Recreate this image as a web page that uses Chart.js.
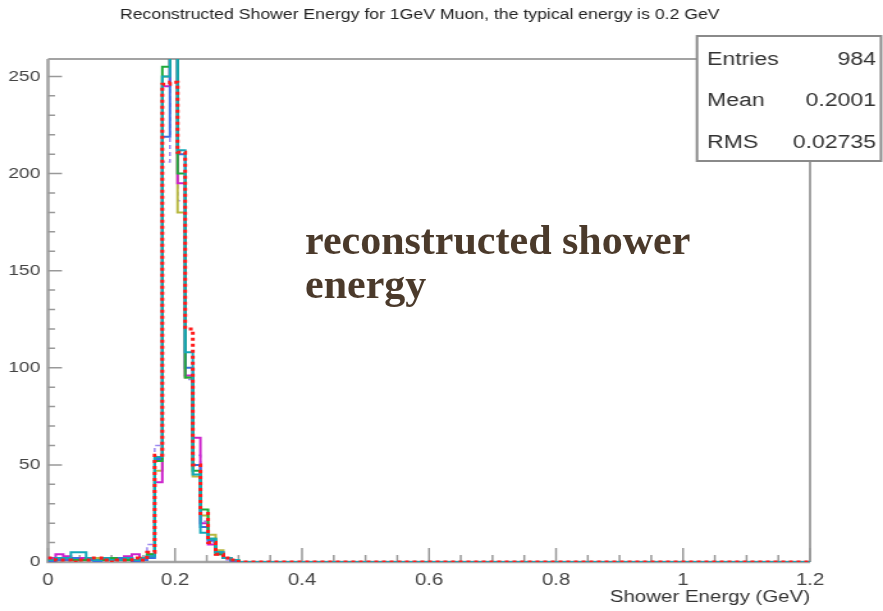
<!DOCTYPE html>
<html>
<head>
<meta charset="utf-8">
<script src="https://cdn.jsdelivr.net/npm/chart.js@4/dist/chart.umd.min.js"></script>
<style>
  html, body { margin: 0; padding: 0; background: #fff; overflow: hidden; }
  body { width: 883px; height: 611px; position: relative; }
  #wrap { position: absolute; left: 0; top: 0; width: 690px; height: 611px;
          transform: scaleX(1.27971); transform-origin: 0 0; }
  #note { position: absolute; left: 305px; top: 218px; font-family: "Liberation Serif", serif;
          font-weight: bold; font-size: 42px; line-height: 44px; color: #4b3a2b; white-space: nowrap; }
</style>
</head>
<body>
<div id="wrap"><canvas id="c"></canvas></div>
<div id="note">reconstructed shower<br>energy</div>
<script>
// ---- data (counts per bin, bin width 0.012 GeV, 100 bins from 0 to 1.2; bins not listed are empty) ----
const binWidth = 0.012;
const nBins = 100;
const seriesNames = ["red", "green", "blue", "cyan", "magenta", "olive", "violet"];
const red     = [2,1,1,0,1,1,2,1,0,1,1,2,1, 5,55,246,247,211,120,50,25,10,4,2,1];
const green   = [1,2,2,1,1,2,1,1,2,1,1,1,2, 4,52,255,262,200,95,47,27,12,4,2,1];
const blue    = [0,1,1,2,1,1,0,1,1,2,1,0,1, 2,53,219,270,210,100,50,18,11,5,2,0];
const cyan    = [1,2,2,5,5,2,1,2,1,1,2,1,2, 3,54,250,268,212,108,45,15,12,5,2,1];
const magenta = [2,4,3,1,2,2,1,1,2,1,3,4,2, 3,41,245,260,195,96,64,20,9,4,2,0];
const olive   = [1,1,2,1,1,1,2,1,1,1,1,1,1, 4,47,250,263,180,95,44,24,14,6,2,1];
const violet  = [1,2,1,1,2,1,1,1,2,1,1,2,3, 9,60,206,265,186,94,55,21,10,4,1,0];
const xTickValues = [0, 0.2, 0.4, 0.6, 0.8, 1, 1.2];
const yTickValues = [0, 50, 100, 150, 200, 250];
const statsLabels = ["Entries", "Mean", "RMS"];
const statsValues = ["984", "0.2001", "0.02735"];
const titleText = "Reconstructed Shower Energy for 1GeV Muon, the typical energy is 0.2 GeV";
const xTitle = "Shower Energy (GeV)";

// ---- build step-histogram points: one point at each bin's lower edge, plus the upper edge ----
function histPoints(counts) {
  const pts = [];
  for (let k = 0; k < nBins; k++) {
    const v = k < counts.length ? counts[k] : 0;
    pts.push({ x: +(k * binWidth).toFixed(4), y: v });
  }
  pts.push({ x: +(nBins * binWidth).toFixed(4), y: pts[pts.length - 1].y });
  return pts;
}

const styles = {
  red:     { color: "#ff1a1a", width: 3,   dash: [3, 3], order: 0 },
  green:   { color: "#1faa3a", width: 2,   dash: [],     order: 2 },
  blue:    { color: "#3a6fe0", width: 2,   dash: [],     order: 3 },
  cyan:    { color: "#12a8b8", width: 2,   dash: [],     order: 1 },
  magenta: { color: "#cc22cc", width: 2,   dash: [],     order: 4 },
  olive:   { color: "#b8b840", width: 2,   dash: [],     order: 5 },
  violet:  { color: "#9a86f0", width: 1.5, dash: [4, 3], order: 6 }
};
const seriesData = { red, green, blue, cyan, magenta, olive, violet };

const datasets = seriesNames.map(n => ({
  label: n,
  data: histPoints(seriesData[n]),
  stepped: "before",
  borderColor: styles[n].color,
  borderWidth: styles[n].width,
  borderDash: styles[n].dash,
  pointRadius: 0,
  fill: false,
  order: styles[n].order
}));

const S = 883 / 690; // horizontal stretch of the picture

const frameTicks = {
  id: "frameTicks",
  beforeDatasetsDraw(chart) {
    const ctx = chart.ctx, a = chart.chartArea, xs = chart.scales.x, ys = chart.scales.y;
    ctx.save();
    ctx.strokeStyle = "#a3a3a3";
    ctx.lineWidth = 2;
    ctx.beginPath();
    ctx.moveTo(a.left, a.top); ctx.lineTo(a.right, a.top); ctx.lineTo(a.right, a.bottom);
    ctx.stroke();
    ctx.lineWidth = 2.5;
    ctx.beginPath();
    ctx.moveTo(a.left, a.top); ctx.lineTo(a.left, a.bottom); ctx.lineTo(a.right, a.bottom);
    ctx.stroke();
    ctx.strokeStyle = "#999";
    ctx.lineWidth = 1.5;
    ctx.beginPath();
    for (let i = 0; i <= 24; i++) {
      const px = xs.getPixelForValue(i * 0.05);
      const len = i % 4 === 0 ? 14 : 7;
      ctx.moveTo(px, a.bottom); ctx.lineTo(px, a.bottom - len);
    }
    for (let i = 0; i <= 25; i++) {
      const py = ys.getPixelForValue(i * 10);
      const len = (i % 5 === 0 ? 14 : 7) / S;
      ctx.moveTo(a.left, py); ctx.lineTo(a.left + len, py);
    }
    ctx.stroke();
    ctx.restore();
  },
  afterDraw(chart) {
    const ctx = chart.ctx;
    const x0 = 697 / S, x1 = 881 / S, y0 = 36, y1 = 161;
    ctx.save();
    ctx.fillStyle = "#fff";
    ctx.fillRect(x0, y0, x1 - x0, y1 - y0);
    ctx.strokeStyle = "#8a8a8a";
    ctx.lineWidth = 2;
    ctx.strokeRect(x0, y0, x1 - x0, y1 - y0);
    ctx.font = "18px 'Liberation Sans', Arial, sans-serif";
    ctx.fillStyle = "#333";
    ctx.textBaseline = "middle";
    const rows = [60, 101, 143];
    statsLabels.forEach((lab, i) => {
      ctx.textAlign = "left";
      ctx.fillText(lab, 707 / S, rows[i]);
      ctx.textAlign = "right";
      ctx.fillText(statsValues[i], 876 / S, rows[i]);
    });
    ctx.restore();
  }
};

const sans = "'Liberation Sans', Arial, sans-serif";

new Chart(document.getElementById("c"), {
  type: "line",
  data: { datasets },
  plugins: [frameTicks],
  options: {
    responsive: true,
    maintainAspectRatio: false,
    animation: false,
    devicePixelRatio: 1,
    layout: { padding: { left: 0, right: 34, top: 0, bottom: 0 } },
    plugins: {
      legend: { display: false },
      tooltip: { enabled: false },
      title: {
        display: true,
        text: titleText,
        color: "#222",
        font: { family: sans, size: 13.8, weight: "normal" },
        padding: { top: 6.7, bottom: 35.7 }
      }
    },
    scales: {
      x: {
        type: "linear",
        min: 0, max: 1.2,
        afterBuildTicks: s => { s.ticks = xTickValues.map(v => ({ value: v })); },
        afterFit: s => { s.height = 49; },
        grid: { display: false, drawTicks: false },
        border: { display: false },
        ticks: {
          color: "#444", padding: 9, maxRotation: 0, autoSkip: false,
          font: { family: sans, size: 16 },
          callback: v => String(+(+v).toFixed(1))
        },
        title: {
          display: true, text: xTitle, align: "end", color: "#333",
          font: { family: sans, size: 16 },
          padding: { top: 0, bottom: 3.4 }
        }
      },
      y: {
        type: "linear",
        position: "left",
        min: 0, max: 259,
        afterBuildTicks: s => { s.ticks = yTickValues.map(v => ({ value: v })); },
        afterFit: s => { s.width = 37.5; },
        grid: { display: false, drawTicks: false },
        border: { display: false },
        ticks: {
          color: "#444", padding: 6,
          font: { family: sans, size: 15 }
        }
      },
      yRightSpacer: {
        type: "linear",
        position: "right",
        display: true,
        afterFit: s => { s.width = 23; },
        grid: { display: false, drawTicks: false },
        border: { display: false },
        ticks: { display: false }
      }
    }
  }
});
</script>
</body>
</html>
